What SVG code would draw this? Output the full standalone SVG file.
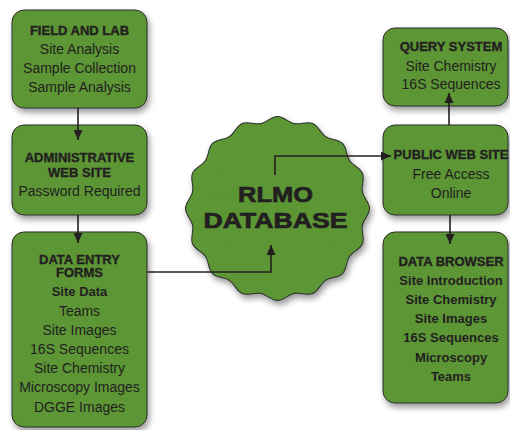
<svg xmlns="http://www.w3.org/2000/svg" width="510" height="430" viewBox="0 0 510 430">
<style>
.box{fill:#5b9634;stroke:#2e2e2e;stroke-width:1}
.h{font-family:"Liberation Sans",Arial,sans-serif;font-weight:bold;font-size:13px;fill:#231f20;stroke:#231f20;stroke-width:0.35;text-anchor:middle}
.t{font-family:"Liberation Sans",Arial,sans-serif;font-size:14px;fill:#231f20;text-anchor:middle}
.b{font-family:"Liberation Sans",Arial,sans-serif;font-weight:bold;font-size:13px;fill:#231f20;text-anchor:middle}
.big{font-family:"Liberation Sans",Arial,sans-serif;font-weight:bold;font-size:22px;fill:#231f20;stroke:#231f20;stroke-width:0.7;text-anchor:middle}
.c{fill:none;stroke:#231f20;stroke-width:1.6;marker-end:url(#ah)}
</style>
<defs>
<filter id="sh" x="-20%" y="-20%" width="150%" height="150%">
<feGaussianBlur in="SourceAlpha" stdDeviation="3"/>
<feOffset dx="2" dy="4"/>
<feComponentTransfer><feFuncA type="linear" slope="0.4"/></feComponentTransfer>
<feMerge><feMergeNode/><feMergeNode in="SourceGraphic"/></feMerge>
</filter>
<marker id="ah" markerUnits="userSpaceOnUse" markerWidth="11" markerHeight="9" refX="10" refY="4.5" orient="auto">
<path d="M0,0 L10,4.5 L0,9 Z" fill="#231f20"/>
</marker>
<path id="lobe" d="M0,0 L86.5,0 C86.5,6.4 91.48,11.67 90.23,17.95 C88.98,24.23 82.37,27.19 79.92,33.10 Z" fill="#5b9634"/>
<path id="lobeS" d="M86.5,0 C86.5,6.4 91.48,11.67 90.23,17.95 C88.98,24.23 82.37,27.19 79.92,33.10" fill="none" stroke="#2e2e2e" stroke-width="1" stroke-linecap="round"/>
</defs>
<rect width="510" height="430" fill="#ffffff"/>

<g id="field-lab">
<rect class="box" x="12" y="10" width="135" height="98" rx="12" filter="url(#sh)"/>
<text class="h" x="79.5" y="35">FIELD AND LAB</text>
<text class="t" x="79.5" y="54">Site Analysis</text>
<text class="t" x="79.5" y="73">Sample Collection</text>
<text class="t" x="79.5" y="92">Sample Analysis</text>
</g>

<g id="admin-site">
<rect class="box" x="12" y="125" width="135" height="90" rx="12" filter="url(#sh)"/>
<text class="h" x="79.5" y="162">ADMINISTRATIVE</text>
<text class="h" x="79.5" y="176.5">WEB SITE</text>
<text class="t" x="79.5" y="196">Password Required</text>
</g>

<g id="data-entry">
<rect class="box" x="12" y="232" width="135" height="195" rx="12" filter="url(#sh)"/>
<text class="h" x="79.5" y="263.5">DATA ENTRY</text>
<text class="h" x="79.5" y="277">FORMS</text>
<text class="b" x="79.5" y="296">Site Data</text>
<text class="t" x="79.5" y="315.5">Teams</text>
<text class="t" x="79.5" y="334.5">Site Images</text>
<text class="t" x="79.5" y="353.5">16S Sequences</text>
<text class="t" x="79.5" y="373">Site Chemistry</text>
<text class="t" x="79.5" y="392">Microscopy Images</text>
<text class="t" x="79.5" y="411.5">DGGE Images</text>
</g>

<g id="rlmo-database">
<g filter="url(#sh)">
<g transform="translate(277.5,208.5) rotate(78.75)">
<circle r="87" fill="#5b9634"/>
<use href="#lobe"/><use href="#lobe" transform="rotate(22.5)"/><use href="#lobe" transform="rotate(45)"/><use href="#lobe" transform="rotate(67.5)"/>
<use href="#lobe" transform="rotate(90)"/><use href="#lobe" transform="rotate(112.5)"/><use href="#lobe" transform="rotate(135)"/><use href="#lobe" transform="rotate(157.5)"/>
<use href="#lobe" transform="rotate(180)"/><use href="#lobe" transform="rotate(202.5)"/><use href="#lobe" transform="rotate(225)"/><use href="#lobe" transform="rotate(247.5)"/>
<use href="#lobe" transform="rotate(270)"/><use href="#lobe" transform="rotate(292.5)"/><use href="#lobe" transform="rotate(315)"/><use href="#lobe" transform="rotate(337.5)"/>
<use href="#lobeS"/><use href="#lobeS" transform="rotate(22.5)"/><use href="#lobeS" transform="rotate(45)"/><use href="#lobeS" transform="rotate(67.5)"/>
<use href="#lobeS" transform="rotate(90)"/><use href="#lobeS" transform="rotate(112.5)"/><use href="#lobeS" transform="rotate(135)"/><use href="#lobeS" transform="rotate(157.5)"/>
<use href="#lobeS" transform="rotate(180)"/><use href="#lobeS" transform="rotate(202.5)"/><use href="#lobeS" transform="rotate(225)"/><use href="#lobeS" transform="rotate(247.5)"/>
<use href="#lobeS" transform="rotate(270)"/><use href="#lobeS" transform="rotate(292.5)"/><use href="#lobeS" transform="rotate(315)"/><use href="#lobeS" transform="rotate(337.5)"/>
</g>
</g>
<text class="big" x="275.5" y="201.5" textLength="75" lengthAdjust="spacingAndGlyphs">RLMO</text>
<text class="big" x="275.5" y="228" textLength="144" lengthAdjust="spacingAndGlyphs">DATABASE</text>
</g>

<g id="query-system">
<rect class="box" x="383" y="28" width="125" height="78" rx="12" filter="url(#sh)"/>
<text class="h" x="451" y="50.5">QUERY SYSTEM</text>
<text class="t" x="451" y="70.5">Site Chemistry</text>
<text class="t" x="451" y="89">16S Sequences</text>
</g>

<g id="public-web-site">
<rect class="box" x="383" y="125" width="125" height="90" rx="12" filter="url(#sh)"/>
<text class="h" x="451" y="159">PUBLIC WEB SITE</text>
<text class="t" x="451" y="178.5">Free Access</text>
<text class="t" x="451" y="197.5">Online</text>
</g>

<g id="data-browser">
<rect class="box" x="383" y="232" width="125" height="171" rx="12" filter="url(#sh)"/>
<text class="h" x="451" y="266">DATA BROWSER</text>
<text class="b" x="451" y="285.3">Site Introduction</text>
<text class="b" x="451" y="304.3">Site Chemistry</text>
<text class="b" x="451" y="323.3">Site Images</text>
<text class="b" x="451" y="342.3">16S Sequences</text>
<text class="b" x="451" y="361.5">Microscopy</text>
<text class="b" x="451" y="380.5">Teams</text>
</g>

<g id="connectors">
<path class="c" d="M78,108 V140"/>
<path class="c" d="M78,215 V243"/>
<path class="c" d="M147,272 H271 V245"/>
<path class="c" d="M275,175 V156 H391"/>
<path class="c" d="M449,125 V93"/>
<path class="c" d="M450,215 V244"/>
</g>
</svg>
